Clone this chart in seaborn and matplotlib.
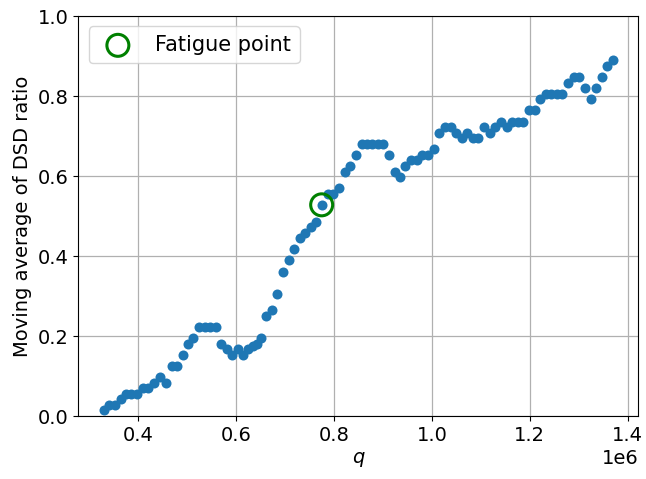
import matplotlib
matplotlib.use("Agg")
import matplotlib.pyplot as plt
import seaborn as sns
import pandas as pd

# Load count q and the moving average of the DSD ratio at each step
q_values = [
    329300, 340100, 351800, 364000, 375500, 385700, 397300, 409600, 419800, 432100,
    443700, 456000, 468900, 479700, 490700, 502200, 512400, 524600, 536300, 546500,
    558200, 569000, 580200, 590800, 603100, 613900, 624200, 633400, 641900, 650700,
    660300, 672600, 684000, 695100, 707900, 718100, 730400, 740600, 752300, 763100,
    774700, 788200, 798400, 810100, 822300, 833600, 844800, 856500, 867300, 878100,
    889200, 900600, 912900, 923900, 934700, 946000, 957800, 969300, 980700, 992000,
    1004200, 1014800, 1026700, 1038500, 1049800, 1060800, 1071600, 1083300, 1095100, 1106800,
    1118200, 1129300, 1141100, 1152800, 1164200, 1175200, 1186700, 1198900, 1210000, 1220800,
    1232400, 1243300, 1254900, 1265800, 1278000, 1289700, 1300900, 1312800, 1324400, 1335200,
    1346900, 1358700, 1370000,
]
dsd_ratio = [
    0.014, 0.028, 0.028, 0.042, 0.056, 0.056, 0.056, 0.069, 0.069, 0.083,
    0.097, 0.083, 0.125, 0.125, 0.153, 0.181, 0.194, 0.222, 0.222, 0.222,
    0.222, 0.181, 0.167, 0.153, 0.167, 0.153, 0.167, 0.174, 0.181, 0.194,
    0.250, 0.264, 0.306, 0.361, 0.389, 0.417, 0.444, 0.458, 0.472, 0.486,
    0.528, 0.556, 0.556, 0.569, 0.611, 0.625, 0.653, 0.681, 0.681, 0.681,
    0.681, 0.681, 0.653, 0.611, 0.597, 0.625, 0.639, 0.639, 0.653, 0.653,
    0.667, 0.708, 0.722, 0.722, 0.708, 0.694, 0.708, 0.694, 0.694, 0.722,
    0.708, 0.722, 0.736, 0.722, 0.736, 0.736, 0.736, 0.764, 0.764, 0.792,
    0.806, 0.806, 0.806, 0.806, 0.833, 0.847, 0.847, 0.819, 0.792, 0.819,
    0.847, 0.875, 0.889,
]

# Detected fatigue point
fatigue_q = [774700]
fatigue_ratio = [0.528]

df = pd.DataFrame({"q": q_values, "ratio": dsd_ratio})
df_fatigue = pd.DataFrame({"q": fatigue_q, "ratio": fatigue_ratio})

plt.rcParams["font.size"] = 14
plt.rcParams["font.family"] = ["DejaVu Sans"]

fig = plt.figure(figsize=(6.46, 4.79), dpi=100)
ax = fig.add_axes([0.1212, 0.1315, 0.867, 0.835])

sns.scatterplot(data=df, x="q", y="ratio", ax=ax, color="#1f77b4",
                s=52, linewidth=0, zorder=3)
sns.scatterplot(data=df_fatigue, x="q", y="ratio", ax=ax, s=250,
                facecolor="none", edgecolor="green", linewidth=2.2,
                label="Fatigue point", zorder=4)

ax.set_ylim(0, 1.0)
ax.set_xlabel("$q$")
ax.set_ylabel("Moving average of DSD ratio")
ax.grid(True, color="#b0b0b0", linewidth=0.9)
ax.set_axisbelow(True)
ax.ticklabel_format(axis="x", style="sci", scilimits=(6, 6))
ax.legend(loc="upper left", fontsize=15)

fig.savefig("out.png", dpi=100)
